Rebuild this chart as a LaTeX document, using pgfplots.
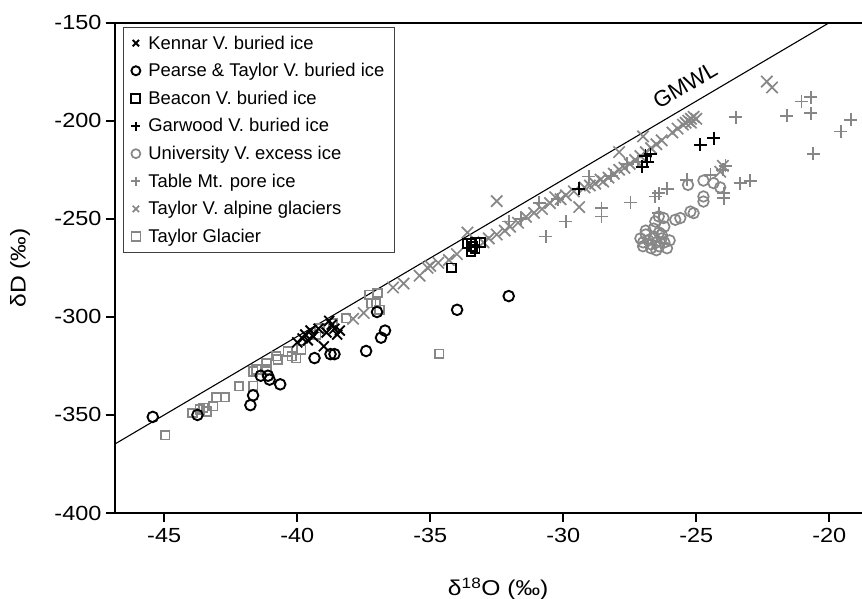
\documentclass[border=0pt]{standalone}
\usepackage{fontspec}
\setmainfont{Liberation Sans}
\newfontfamily\tickfont{Liberation Sans}[FakeStretch=1.15]
\usepackage{pgfplots}
\pgfplotsset{compat=1.18}
\definecolor{mg}{RGB}{135,135,135}
\begin{document}
\begin{tikzpicture}
\begin{axis}[
  name=main,
  scale only axis, width=747bp, height=490.3bp,
  xmin=-46.85, xmax=-18.77, ymin=-400, ymax=-150,
  axis x line*=bottom, axis y line*=left,
  axis line style={line width=2bp},
  xtick={-45,-40,-35,-30,-25,-20}, xticklabels={-45,-40,-35,-30,-25,-20},
  ytick={-400,-350,-300,-250,-200,-150}, yticklabels={-400,-350,-300,-250,-200,-150},
  tick align=outside, major tick length=9bp,
  tick style={line width=2bp, black},
  ticklabel style={font=\tickfont\fontsize{20.5}{24}\selectfont},
  yticklabel style={xshift=-1bp},
  xticklabel style={yshift=-3bp},
  xlabel={δ\textsuperscript{18}O (‰)}, ylabel={δD (‰)},
  label style={font=\tickfont\fontsize{21.5}{25}\selectfont},
  xlabel style={at={(axis description cs:0.513,-0.169)}, anchor=base},
  ylabel style={at={(axis description cs:-0.127,0.5)}, anchor=center},
  legend style={at={(axis description cs:0.0107,0.9906)}, anchor=north west,
    draw=black!75, line width=0.8bp, fill=white,
    font=\fontsize{18.5}{22}\selectfont, inner xsep=8bp, inner ysep=6bp,
    row sep=8.8bp, cells={anchor=west},
    /tikz/every odd column/.append style={column sep=6bp}},
  legend image post style={mark size=4.5bp},
  reverse legend,
  clip mode=individual,
]
\addplot[black, line width=1.1bp, forget plot] coordinates {(-47,-366) (-20,-150)};
% Taylor Glacier
\addplot[only marks, mark=square, mark size=4.3bp, mg, line width=1.7bp] coordinates {
(-44.96,-360.4) (-43.94,-349.0) (-43.66,-347.3) (-43.41,-348.2) (-43.16,-345.6) (-43.04,-341.0)
(-42.72,-341.0) (-43.54,-346.4) (-42.19,-335.4) (-41.66,-335.1) (-41.66,-327.8) (-41.54,-326.9)
(-41.16,-323.5) (-41.16,-326.9) (-40.79,-320.1) (-40.73,-321.8) (-40.35,-317.6) (-40.04,-321.0)
(-40.2,-320) (-39.85,-316.7) (-39.29,-309.1) (-39.16,-305.7) (-38.16,-300.6) (-38.66,-303.1)
(-37.29,-288.7) (-36.98,-287.8) (-37.04,-293) (-36.91,-296.4) (-37.22,-293) (-34.66,-318.9)
};
% Taylor V. alpine glaciers
\addplot[only marks, mark=x, mark size=8bp, mg, line width=1.7bp] coordinates {
(-37.9,-301) (-37.5,-298) (-36.4,-285) (-36.0,-283) (-35.4,-279) (-35.1,-275) (-35.0,-274)
(-34.7,-272.4) (-34.3,-271) (-34.0,-268) (-33.6,-257) (-33.0,-262) (-32.8,-260) (-32.5,-258)
(-32.5,-241) (-32.2,-256) (-32.0,-254) (-31.7,-252) (-31.4,-249) (-31.1,-247) (-30.8,-245)
(-30.5,-242) (-30.3,-239) (-30.1,-240) (-29.9,-238) (-29.6,-236) (-29.4,-244) (-29.2,-234)
(-29.0,-233) (-28.8,-232) (-28.6,-230) (-28.5,-231) (-28.3,-229) (-28.1,-227) (-27.9,-225)
(-27.9,-216) (-27.7,-224) (-27.5,-222) (-27.3,-220) (-27.0,-208) (-27.1,-218) (-26.9,-216)
(-26.7,-214) (-26.5,-212) (-26.3,-210) (-25.9,-206) (-25.7,-204) (-25.5,-202) (-25.4,-201)
(-25.3,-200) (-25.2,-199) (-25.1,-198) (-25.0,-199) (-25.2,-201) (-22.35,-180) (-22.15,-183)
(-24.1,-226) (-24.0,-223)
};
% Table Mt. pore ice
\addplot[only marks, mark=+, mark size=6.5bp, mg, line width=1.7bp] coordinates {
(-30.66,-259.0) (-29.91,-251.4) (-28.56,-244.6) (-28.56,-248.8) (-27.47,-241.7) (-26.54,-238.6)
(-26.41,-236.9) (-26.1,-234.7) (-26.41,-247.1) (-25.35,-230.1) (-24.47,-227.6) (-23.97,-236.9)
(-23.97,-239.5) (-24.0,-225) (-23.9,-223) (-23.35,-231.8) (-22.97,-230.6) (-23.51,-198.2)
(-21.6,-197.5) (-21.04,-190.2) (-20.69,-188.0) (-20.69,-196.2) (-20.6,-216.9) (-19.56,-205.5)
(-19.19,-199.6) (-32.04,-251.4) (-30.9,-241.9) (-29.04,-228.4) (-31.6,-250) (-30.2,-240)
(-28.2,-228) (-27.6,-222) (-27.2,-221)
};
% University V. excess ice
\addplot[only marks, mark=o, mark size=5.3bp, mg, line width=1.7bp] coordinates {
(-27.1,-260) (-27.0,-262) (-26.9,-258) (-26.8,-261) (-26.7,-263) (-26.6,-259) (-26.5,-262)
(-26.4,-264) (-26.3,-260) (-26.2,-262) (-26.1,-265) (-26.0,-261) (-26.9,-256) (-26.6,-255)
(-26.4,-257) (-26.2,-254) (-26.7,-265) (-27.0,-264) (-26.5,-266) (-26.3,-258)
(-26.23,-249.6) (-25.79,-250.5) (-25.6,-249.6) (-25.22,-246.3) (-25.1,-247.1) (-24.73,-238.6)
(-24.73,-241.2) (-25.31,-232.7) (-24.73,-230.5) (-24.35,-231.8) (-24.1,-234) (-26.54,-251.4)
(-26.41,-248.8)
};
% Garwood
\addplot[only marks, mark=+, mark size=6.5bp, black, line width=1.9bp] coordinates {
(-29.41,-234.7) (-27.04,-223.4) (-26.91,-217.9) (-26.72,-217.1) (-26.85,-220.8) (-24.85,-212.3)
(-24.35,-208.9)
};
% Beacon
\addplot[only marks, mark=square, mark size=4.3bp, black, line width=1.9bp] coordinates {
(-34.2,-275) (-33.62,-262.7) (-33.47,-266.6) (-33.31,-265.4) (-33.31,-262.1) (-33.1,-262.1)
(-33.47,-262.4) (-33.39,-264.1)
};
% Pearse & Taylor
\addplot[only marks, mark=o, mark size=5.3bp, black, line width=1.9bp] coordinates {
(-45.43,-351) (-43.75,-350) (-41.76,-345) (-41.66,-340) (-41.37,-330) (-41.1,-330) (-41.04,-332)
(-40.64,-334.4) (-39.35,-321) (-38.75,-319) (-38.6,-319) (-37.41,-317.4) (-36.85,-310.6)
(-36.7,-307) (-37.0,-297.5) (-33.99,-296.4) (-32.05,-289.4)
};
% Kennar
\addplot[only marks, mark=x, mark size=7bp, black, line width=1.9bp] coordinates {
(-40.0,-313) (-39.8,-311) (-39.7,-309) (-39.5,-307) (-39.4,-310) (-39.2,-306) (-39.0,-315)
(-38.9,-308) (-38.8,-302) (-38.7,-304) (-38.6,-306) (-38.5,-309) (-38.4,-307) (-39.6,-312)
};
\legend{Taylor Glacier, Taylor V. alpine glaciers, Table Mt. pore ice, University V. excess ice,
Garwood V. buried ice, Beacon V. buried ice, Pearse \& Taylor V. buried ice, Kennar V. buried ice}
\node[rotate=30.5, font=\fontsize{22.5}{26}\selectfont] at (axis cs:-25.42,-181.8) {GMWL};
\end{axis}
\draw[line width=2bp] (main.north west) -- (main.north east);
\pgfresetboundingbox
\useasboundingbox ([xshift=-115bp,yshift=-86bp]main.south west) rectangle ([yshift=22.7bp]main.north east);
\end{tikzpicture}
\end{document}
